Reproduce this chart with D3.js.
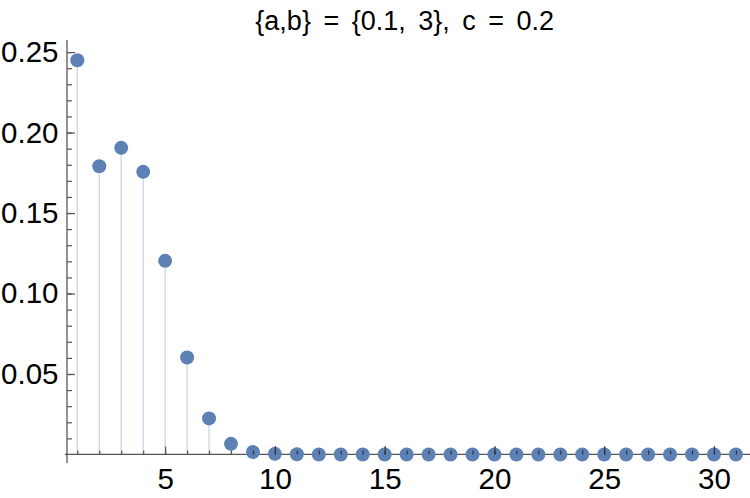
<!DOCTYPE html>
<html>
<head>
<meta charset="utf-8">
<script src="https://cdn.jsdelivr.net/npm/d3@7"></script>
<style>
  html, body { margin: 0; padding: 0; background: #fff; }
  svg { display: block; font-family: "Liberation Sans", Arial, sans-serif; }
</style>
</head>
<body>
<svg id="chart" width="750" height="498"></svg>
<script>
const titleText = "{a,b} = {0.1, 3}, c = 0.2";
const xValues = [1,2,3,4,5,6,7,8,9,10,11,12,13,14,15,16,17,18,19,20,21,22,23,24,25,26,27,28,29,30,31];
const yValues = [0.2449,0.1791,0.1905,0.1756,0.1203,0.0602,0.0224,0.0066,0.0015,0.0004,0.0001,0,0,0,0,0,0,0,0,0,0,0,0,0,0,0,0,0,0,0,0];
const xMajorTicks = [5,10,15,20,25,30];
const xMinorTicks = d3.range(1, 32);
const yMajorTicks = [0.05,0.10,0.15,0.20,0.25];
const yMinorTicks = d3.range(1, 26).map(d => d / 100);

const data = xValues.map((x, i) => ({x, y: yValues[i]}));

const svg = d3.select("#chart");
const pointColor = "#5e81b5";
const stemColor = "#c6d4ea";
const axisColor = "#555";

const x = d3.scaleLinear().domain([0.53, 31.55]).range([67, 748]);
const y = d3.scaleLinear().domain([-0.0053, 0.2575]).range([463, 40]);

// stems
svg.append("g").selectAll("line").data(data).join("line")
  .attr("x1", d => x(d.x)).attr("x2", d => x(d.x))
  .attr("y1", y(0)).attr("y2", d => y(d.y))
  .attr("stroke", stemColor).attr("stroke-width", 1.2);

// axis lines
svg.append("line").attr("x1", 65).attr("x2", 750).attr("y1", y(0)).attr("y2", y(0))
  .attr("stroke", axisColor).attr("stroke-width", 1.2);
svg.append("line").attr("x1", x(0.53)).attr("x2", x(0.53)).attr("y1", 40).attr("y2", 463)
  .attr("stroke", axisColor).attr("stroke-width", 1.3);

// x axis ticks
const gxMinor = svg.append("g").attr("transform", `translate(0,${y(0)})`)
  .call(d3.axisBottom(x).tickValues(xMinorTicks).tickSize(-4).tickFormat(""));
const gxMajor = svg.append("g").attr("transform", `translate(0,${y(0)})`)
  .call(d3.axisBottom(x).tickValues(xMajorTicks).tickSize(-8).tickPadding(14).tickFormat(d3.format("d")));
// y axis ticks
const gyMinor = svg.append("g").attr("transform", `translate(${x(0.53)},0)`)
  .call(d3.axisLeft(y).tickValues(yMinorTicks).tickSize(-5).tickFormat(""));
const gyMajor = svg.append("g").attr("transform", `translate(${x(0.53)},0)`)
  .call(d3.axisLeft(y).tickValues(yMajorTicks).tickSize(-8).tickPadding(8.5).tickFormat(d3.format(".2f")));

[gxMinor, gxMajor, gyMinor, gyMajor].forEach(g => {
  g.select(".domain").remove();
  g.selectAll(".tick line").attr("stroke", axisColor).attr("stroke-width", 1.2);
  g.selectAll("text").attr("fill", "#000").attr("font-size", 29.5)
    .attr("font-family", "'Liberation Sans', Arial, sans-serif");
});

// points (drawn over ticks)
svg.append("g").selectAll("circle").data(data).join("circle")
  .attr("cx", d => x(d.x)).attr("cy", d => y(d.y)).attr("r", 7)
  .attr("fill", pointColor);

// re-draw x ticks on top of points (as in reference)
svg.append("g").attr("transform", `translate(0,${y(0)})`)
  .call(d3.axisBottom(x).tickValues(xMinorTicks.filter(v => v >= 9)).tickSize(-4).tickFormat(""))
  .call(g => g.select(".domain").remove())
  .call(g => g.selectAll(".tick line").attr("stroke", "#333").attr("stroke-width", 1.2));
svg.append("g").attr("transform", `translate(0,${y(0)})`)
  .call(d3.axisBottom(x).tickValues(xMajorTicks.filter(v => v >= 10)).tickSize(-8).tickFormat(""))
  .call(g => g.select(".domain").remove())
  .call(g => g.selectAll(".tick line").attr("stroke", "#333").attr("stroke-width", 1.2));

// title
svg.append("text")
  .attr("x", 404.7).attr("y", 29.5)
  .attr("text-anchor", "middle")
  .attr("font-size", 27)
  .attr("word-spacing", 5)
  .attr("fill", "#000")
  .text(titleText);
</script>
</body>
</html>
